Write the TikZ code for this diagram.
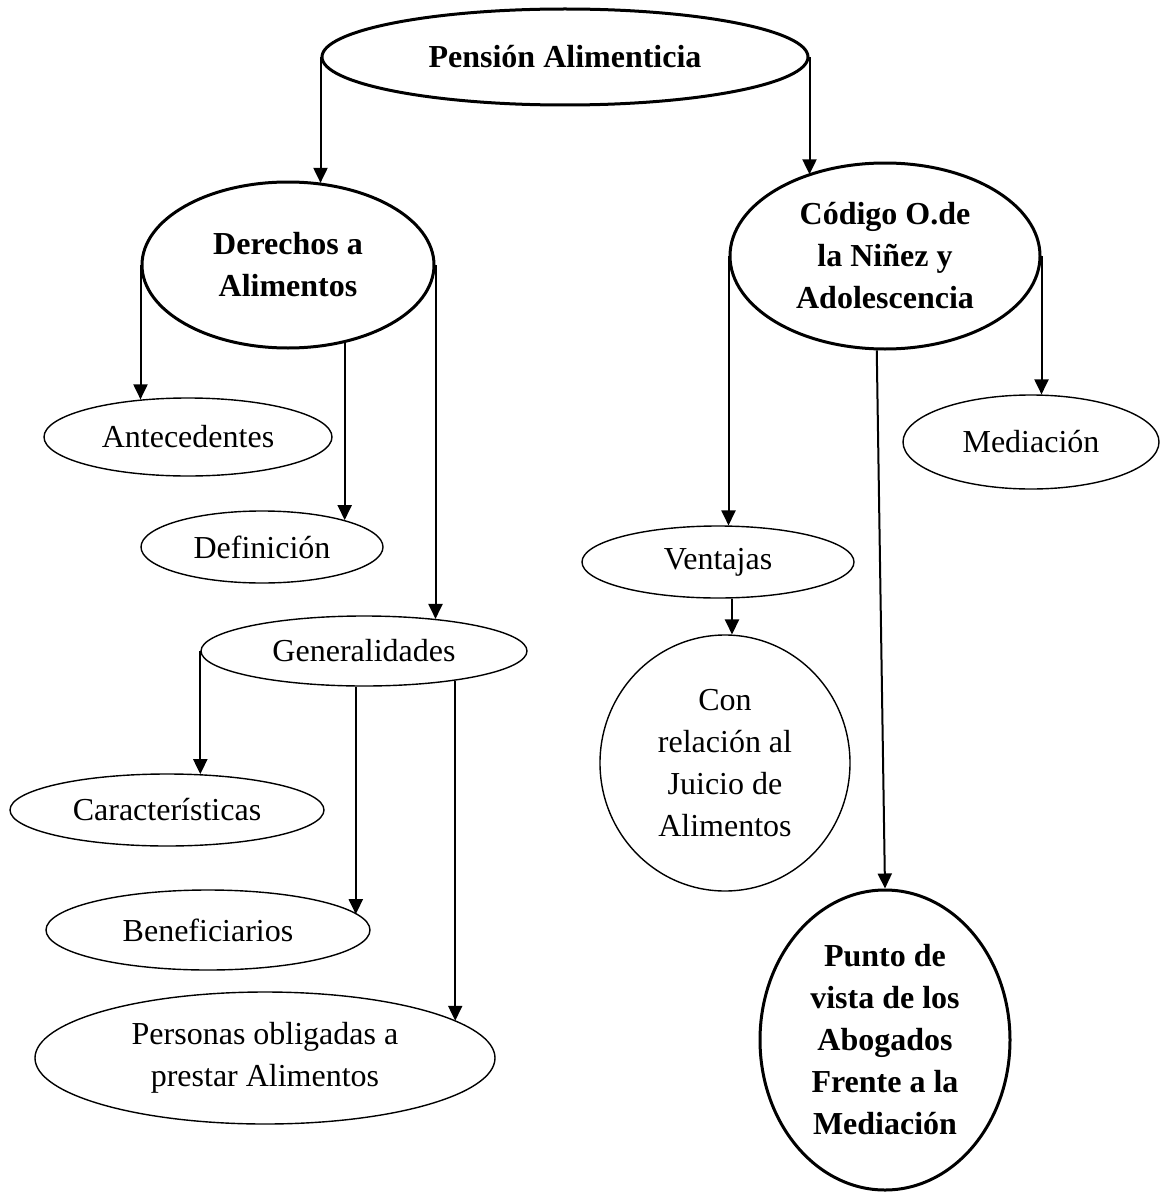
\documentclass[tikz,border=0pt]{standalone}
\usepackage{fontspec}
\setmainfont{Liberation Serif}
\usetikzlibrary{shapes.geometric,arrows.meta}
\begin{document}
\begin{tikzpicture}[x=1pt,y=-1pt,
  box/.style={ellipse, draw, line width=1.4pt, inner sep=-60pt, align=center,
    font=\fontsize{32}{42}\selectfont},
  bbox/.style={box, line width=3pt, font=\fontsize{32}{42}\selectfont\bfseries},
  arr/.style={line width=2pt, -{Triangle[length=15pt,width=14pt]}}]
\useasboundingbox (0,0) rectangle (1162,1196);
% nodes
\node[bbox, minimum width=486pt, minimum height=96pt] (pa) at (565,57) {Pensión Alimenticia};
\node[bbox, minimum width=292pt, minimum height=166pt] (der) at (288,265) {Derechos a\\Alimentos};
\node[bbox, minimum width=310pt, minimum height=186pt] (cod) at (885,256) {Código O.de\\la Niñez y\\Adolescencia};
\node[box, minimum width=288pt, minimum height=78pt] (ant) at (188,437) {Antecedentes};
\node[box, minimum width=242pt, minimum height=72pt] (def) at (262,547) {Definición};
\node[box, minimum width=326pt, minimum height=70pt] (gen) at (364,651) {Generalidades};
\node[box, minimum width=314pt, minimum height=72pt] (car) at (167,810) {Características};
\node[box, minimum width=324pt, minimum height=80pt] (ben) at (208,930) {Beneficiarios};
\node[box, minimum width=460pt, minimum height=132pt] (per) at (265,1058) {Personas obligadas a\\prestar Alimentos};
\node[box, minimum width=256pt, minimum height=94pt] (med) at (1031,442) {Mediación};
\node[box, minimum width=272pt, minimum height=72pt] (ven) at (718,562) {Ventajas};
\node[box, minimum width=250pt, minimum height=256pt] (con) at (725,763) {Con\\relación al\\Juicio de\\Alimentos};
\node[bbox, minimum width=250pt, minimum height=300pt] (pun) at (885,1040) {Punto de\\vista de los\\Abogados\\Frente a la\\Mediación};
% connectors
\draw[arr] (pa.west) -- (pa.west |- der.67);
\draw[arr] (pa.east) -- (pa.east |- cod.134);
\draw[arr] (der.west) -- (der.west |- ant.141);
\draw[arr] (der.306) -- (der.306 |- def.18);
\draw[arr] (der.east) -- (der.east |- gen.24);
\draw[arr] (cod.west) -- (cod.west |- ven.71);
\draw[arr] (cod.east) -- (cod.east |- med.79);
\draw[arr] (cod.265) -- (pun.north);
\draw[arr] (ven.291) -- (ven.291 |- con.87);
\draw[arr] (gen.west) -- (gen.west |- car.46);
\draw[arr] (gen.257) -- (gen.257 |- ben.6);
\draw[arr] (gen.342) -- (gen.342 |- per.11);
\end{tikzpicture}
\end{document}
